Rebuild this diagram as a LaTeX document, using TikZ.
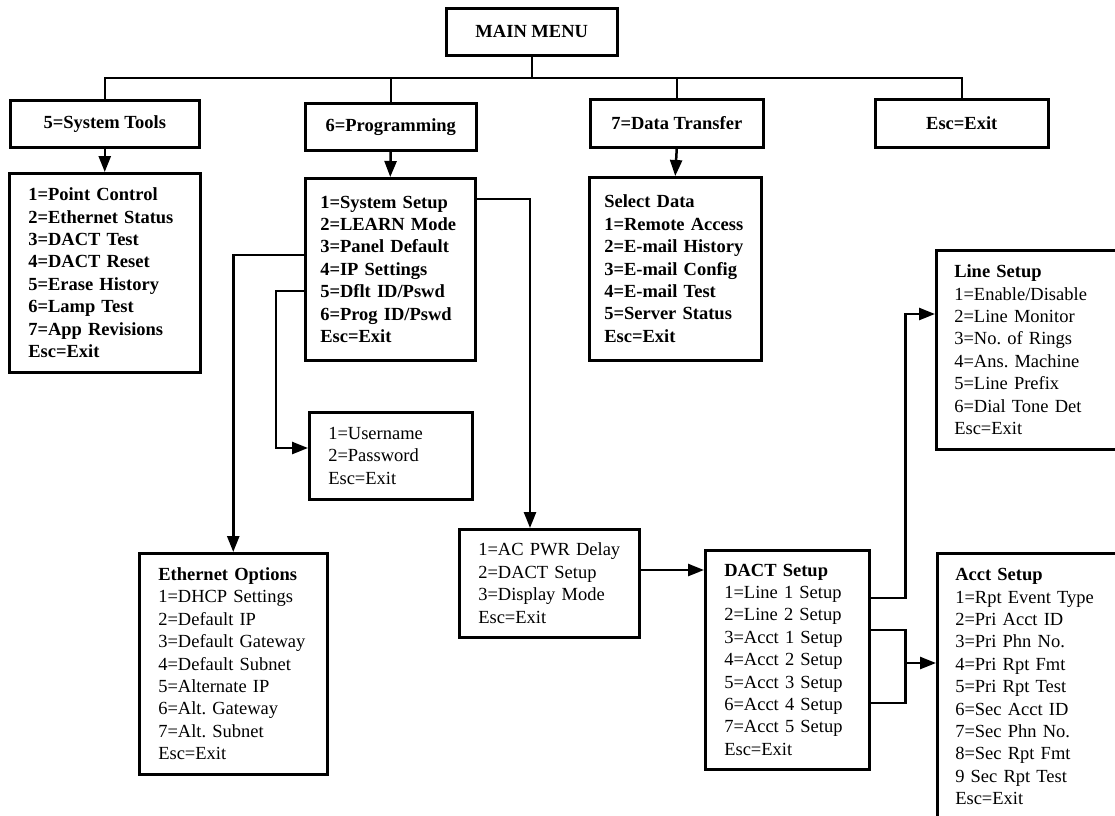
\documentclass[tikz,border=0pt]{standalone}
\usepackage{fontspec}
\setmainfont{Liberation Serif}
\usepackage{tikz}
\usetikzlibrary{arrows.meta}
\tikzset{
	menubox/.style={draw,line width=2.5pt,anchor=north west,inner xsep=19pt,
		inner ysep=0pt,align=left,font=\fontsize{18.5}{22.4}\selectfont\frenchspacing},
	boldbox/.style={menubox,font=\fontsize{18.5}{22.4}\selectfont\frenchspacing\bfseries},
	headbox/.style={boldbox,align=center,inner xsep=0pt},
	wire/.style={line width=2.5pt}
}

\begin{document}
\begin{tikzpicture}[line join=miter,>={Triangle[length=16pt,width=12pt]},
		x=1pt,y=-1pt]
		\useasboundingbox (0,0) rectangle (1115,815);
		\clip (0,0) rectangle (1115,815);
		% top row
		\node[headbox,minimum width=171pt,minimum height=47pt] (main) at (445,7) {MAIN MENU};
		\node[headbox,minimum width=189pt,minimum height=47pt] (tools) at (9,99) {5=System Tools};
		\node[headbox,minimum width=171pt,minimum height=47pt] (prog) at (304,102) {6=Programming};
		\node[headbox,minimum width=173pt,minimum height=48pt] (xfer) at (589,98) {7=Data Transfer};
		\node[headbox,minimum width=173pt,minimum height=48pt] (quit) at (874,98) {Esc=Exit};
		% lists
		\node[boldbox,text width=153pt,minimum height=199pt] (toollist) at (8,172)
		{1=Point Control\\2=Ethernet Status\\3=DACT Test\\4=DACT Reset\\5=Erase History\\6=Lamp Test\\7=App Revisions\\Esc=Exit};
		\node[boldbox,inner xsep=15pt,text width=140pt,minimum height=182pt] (proglist) at (304,177)
		{1=System Setup\\2=LEARN Mode\\3=Panel Default\\4=IP Settings\\5=Dflt ID/Pswd\\6=Prog ID/Pswd\\Esc=Exit};
		\node[boldbox,inner xsep=15pt,text width=142pt,minimum height=183pt] (datalist) at (588,176)
		{Select Data\\1=Remote Access\\2=E-mail History\\3=E-mail Config\\4=E-mail Test\\5=Server Status\\Esc=Exit};
		\node[menubox,text width=125pt,minimum height=87pt] (userpw) at (308,411)
		{1=Username\\2=Password\\Esc=Exit};
		\node[menubox,text width=150pt,minimum height=221pt] (ethopt) at (138,552)
		{\textbf{Ethernet Options}\\1=DHCP Settings\\2=Default IP\\3=Default Gateway\\4=Default Subnet\\5=Alternate IP\\6=Alt. Gateway\\7=Alt. Subnet\\Esc=Exit};
		\node[menubox,text width=142pt,minimum height=108pt] (acpwr) at (458,528)
		{1=AC PWR Delay\\2=DACT Setup\\3=Display Mode\\Esc=Exit};
		\node[menubox,text width=126pt,minimum height=219pt] (dact) at (704,549)
		{\textbf{DACT Setup}\\1=Line 1 Setup\\2=Line 2 Setup\\3=Acct 1 Setup\\4=Acct 2 Setup\\5=Acct 3 Setup\\6=Acct 4 Setup\\7=Acct 5 Setup\\Esc=Exit};
		\node[menubox,inner xsep=18pt,text width=164pt,minimum height=199pt] (linesetup) at (935,249)
		{\textbf{Line Setup}\\1=Enable/Disable\\2=Line Monitor\\3=No. of Rings\\4=Ans. Machine\\5=Line Prefix\\6=Dial Tone Det\\Esc=Exit};
		\node[menubox,inner xsep=18pt,text width=164pt,minimum height=267pt] (acct) at (936,552)
		{\textbf{Acct Setup}\\1=Rpt Event Type\\2=Pri Acct ID\\3=Pri Phn No.\\4=Pri Rpt Fmt\\5=Pri Rpt Test\\6=Sec Acct ID\\7=Sec Phn No.\\8=Sec Rpt Fmt\\9 Sec Rpt Test\\Esc=Exit};
		% bus
		\coordinate (bus) at (0,78);
		\draw[wire] (main.south) -- (main.south |- bus);
		\draw[wire] (tools.north) |- (quit.north |- bus) -- (quit.north);
		\draw[wire] (prog.north) -- (prog.north |- bus);
		\draw[wire] (xfer.north) -- (xfer.north |- bus);
		\draw[wire,->] (tools.south) -- (toollist.north);
		\draw[wire,->] (prog.south) -- (proglist.north);
		\draw[wire,->] (xfer.south) -- (datalist.north);
		% from programming
		\draw[wire,->] ([yshift=-22pt]proglist.north east) -| ([xshift=72pt]acpwr.north west); %system setup
		\draw[wire,->] ([yshift=-78pt]proglist.north west) -| (ethopt.north); %ip settings
		\draw[wire,->] ([yshift=-114pt]proglist.north west) -- ++(-28,0)
		|- ([yshift=-37pt]userpw.north west); %id/pswd
		\draw[wire,->] ([yshift=-42pt]acpwr.north east) -- ([yshift=-21pt]dact.north west);
		% from dact
		\draw[wire,->] ([yshift=-49pt]dact.north east) -- ++(35,0)
		|- ([yshift=-65pt]linesetup.north west); %line 1
		\draw[wire] ([yshift=-81pt]dact.north east) -| ++(35,73) -- ++(-35,0); %acct 1..4
		\draw[wire,->] ([xshift=35pt,yshift=-114pt]dact.north east) -- ([yshift=-111pt]acct.north west);
\end{tikzpicture}
\end{document}
